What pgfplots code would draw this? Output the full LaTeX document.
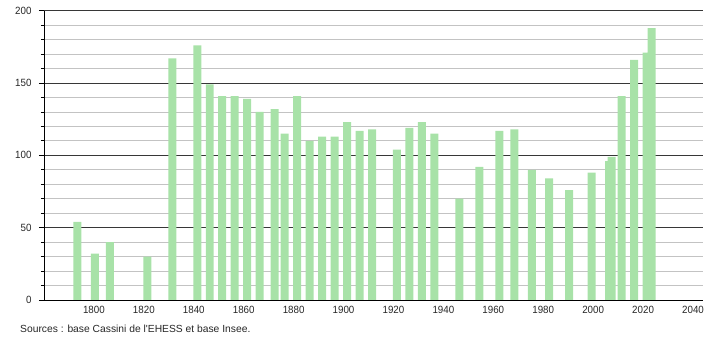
\documentclass[border=0pt]{standalone}
\usepackage{fontspec}
\setmainfont{Liberation Sans}[FakeStretch=0.93]
\newfontfamily\footfont{Liberation Sans}
\usepackage{pgfplots}
\pgfplotsset{compat=1.18}
\definecolor{barfill}{RGB}{168,226,168}
\definecolor{majgrid}{RGB}{55,55,55}
\definecolor{mingrid}{RGB}{195,195,195}
\begin{document}
\begin{tikzpicture}
\path[use as bounding box] (0,0) rectangle (710pt,340pt);
\begin{axis}[
  at={(44pt,40pt)}, anchor=south west,
  scale only axis, width=659pt, height=289.3pt,
  xmin=1780, xmax=2044, ymin=0, ymax=200,
  axis x line*=bottom, axis y line*=left,
  axis line style={black, line width=0.8pt},
  xtick={1800,1820,...,2040},
  xticklabels={1800,1820,1840,1860,1880,1900,1920,1940,1960,1980,2000,2020,2040},
  ytick={0,50,100,150,200},
  minor ytick={10,20,30,40,60,70,80,90,110,120,130,140,160,170,180,190},
  ymajorgrids, yminorgrids,
  major grid style={majgrid, line width=0.8pt},
  minor grid style={mingrid, line width=0.8pt},
  tick align=outside,
  major tick length=5pt, minor tick length=3pt,
  x tick style={draw=none},
  y tick style={black, line width=0.8pt},
  every tick label/.append style={font=\fontsize{10.5}{12}\selectfont, text=black!85},
  yticklabel style={xshift=-4pt},
  xticklabel style={yshift=2pt},
  /pgf/number format/assume math mode=true,
  ytick pos=left,
]
\addplot[ybar, bar width=3.2, bar shift=1pt, fill=barfill, draw=none] coordinates {
(1793,54) (1800,32) (1806,40) (1821,30) (1831,167) (1841,176) (1846,149)
(1851,141) (1856,141) (1861,139) (1866,130) (1872,132) (1876,115) (1881,141)
(1886,110) (1891,113) (1896,113) (1901,123) (1906,117) (1911,118) (1921,104)
(1926,119) (1931,123) (1936,115) (1946,70) (1954,92) (1962,117) (1968,118)
(1975,90) (1982,84) (1990,76) (1999,88) (2006,96) (2007,99) (2011,141)
(2016,166) (2021,171) (2023,188)
};
\end{axis}
\node[anchor=base west, inner sep=0pt, font=\footfont\fontsize{10.3}{12}\selectfont, text=black!85] at (20pt,7pt) {Sources : base Cassini de l'EHESS et base Insee.};
\end{tikzpicture}
\end{document}
